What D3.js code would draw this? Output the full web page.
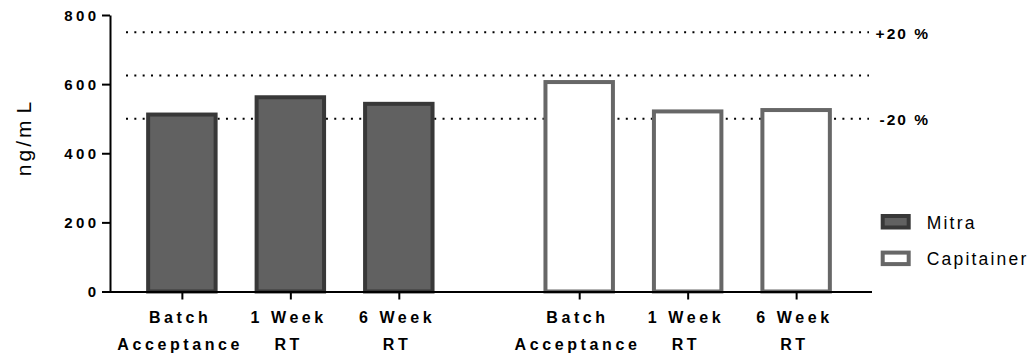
<!DOCTYPE html>
<html>
<head>
<meta charset="utf-8">
<script src="https://cdn.jsdelivr.net/npm/d3@7"></script>
<style>
  body { margin: 0; background: #fff; }
  svg { display: block; }
</style>
</head>
<body>
<svg id="chart" width="1033" height="357"></svg>
<script>
// Concentration by device and storage timepoint
const devices = ["Mitra", "Capitainer"];
const timepoints = ["Batch Acceptance", "1 Week RT", "6 Week RT"];
const timepointLines = [["Batch", "Acceptance"], ["1 Week", "RT"], ["6 Week", "RT"]];
const mitraValues = [512, 562, 543];
const capitainerValues = [606, 521, 525];
const yTicks = [0, 200, 400, 600, 800];
// nominal 625 ng/mL with ±20 % acceptance limits
const refValues = [750, 625, 500];
const refLabels = ["+20 %", "", "-20 %"];

const seriesValues = { Mitra: mitraValues, Capitainer: capitainerValues };
const deviceStyle = {
  Mitra: { fill: "#616161", stroke: "#383838" },
  Capitainer: { fill: "#ffffff", stroke: "#676767" }
};

const font = "'Liberation Sans', Arial, Helvetica, sans-serif";
const svg = d3.select("#chart");

const y = d3.scaleLinear().domain([0, 800]).range([291.5, 15]);
const outer = d3.scaleBand().domain(devices).range([110, 868])
  .paddingInner(0.181).paddingOuter(0.0444);
const inner = d3.scaleBand().domain(timepoints).range([0, outer.bandwidth()])
  .paddingInner(0.378).paddingOuter(0.189);

const entries = devices.flatMap(dev => timepoints.map((tp, i) => ({
  dev, tp, i, value: seriesValues[dev][i]
})));
const keyOf = e => e.dev + "|" + e.tp;
const xTick = d3.scaleOrdinal()
  .domain(entries.map(keyOf))
  .range(entries.map(e => outer(e.dev) + inner(e.tp) + inner.bandwidth() / 2));

// dotted reference lines (behind the bars)
svg.append("g").selectAll("line").data(refValues).join("line")
  .attr("x1", 126).attr("x2", 869)
  .attr("y1", d => y(d)).attr("y2", d => y(d))
  .attr("stroke", "#000").attr("stroke-width", 2)
  .attr("stroke-dasharray", "2 6.33");

svg.append("g").selectAll("text").data(refValues).join("text")
  .attr("x", 928).attr("y", d => y(d) + 6.5)
  .attr("text-anchor", "end")
  .attr("font-family", font).attr("font-weight", "bold")
  .attr("font-size", 15.5).attr("letter-spacing", 2)
  .attr("dx", 2)
  .text((d, i) => refLabels[i]);

// bars
svg.append("g").selectAll("rect").data(entries).join("rect")
  .attr("x", e => outer(e.dev) + inner(e.tp))
  .attr("width", inner.bandwidth())
  .attr("y", e => y(e.value))
  .attr("height", e => y(0) - y(e.value))
  .attr("fill", e => deviceStyle[e.dev].fill)
  .attr("stroke", e => deviceStyle[e.dev].stroke)
  .attr("stroke-width", 4);

// y axis
const yAxis = svg.append("g").attr("transform", "translate(110,0)")
  .call(d3.axisLeft(y).tickValues(yTicks).tickSize(8).tickSizeOuter(0).tickPadding(6));
yAxis.select(".domain").attr("stroke-width", 2);
yAxis.selectAll(".tick line").attr("stroke-width", 2);
yAxis.selectAll(".tick text")
  .attr("font-family", font).attr("font-weight", "bold")
  .attr("font-size", 15).attr("letter-spacing", 3.4).attr("dx", 3.4)
  .attr("dy", "0.36em")
  .attr("fill", "#000");

// x axis
const xAxisG = svg.append("g").attr("transform", `translate(0,${y(0)})`)
  .call(d3.axisBottom(xTick).tickSize(8).tickSizeOuter(0).tickFormat(() => ""));
xAxisG.select(".domain").remove();
xAxisG.selectAll(".tick line").attr("stroke-width", 2);
xAxisG.append("line")
  .attr("x1", 109).attr("x2", outer.range()[1] + 4)
  .attr("y1", 0.5).attr("y2", 0.5)
  .attr("stroke", "#000").attr("stroke-width", 2);

xAxisG.selectAll(".tick").each(function (k) {
  const e = entries.find(d => keyOf(d) === k);
  const t = d3.select(this).append("text")
    .attr("font-family", font).attr("font-weight", "bold")
    .attr("font-size", 16).attr("letter-spacing", 3.6)
    .attr("text-anchor", "middle").attr("fill", "#000");
  timepointLines[e.i].forEach((line, j) => {
    t.append("tspan").attr("x", -2.2).attr("y", 31.5 + j * 27).text(line);
  });
});

// y axis title
svg.append("text")
  .attr("transform", "translate(31,139) rotate(-90)")
  .attr("text-anchor", "middle")
  .attr("font-family", font).attr("font-size", 21)
  .attr("letter-spacing", 3).attr("dx", 1.5)
  .text("ng/m")
  .append("tspan").attr("dx", 4).text("L");

// legend
const legend = svg.append("g").selectAll("g").data(devices).join("g")
  .attr("transform", (d, i) => `translate(882.7,${216 + i * 36.6})`);
legend.append("rect")
  .attr("width", 26).attr("height", 11.5)
  .attr("fill", d => deviceStyle[d].fill)
  .attr("stroke", d => deviceStyle[d].stroke)
  .attr("stroke-width", 4);
legend.append("text")
  .attr("x", 44).attr("y", 12.8)
  .attr("font-family", font).attr("font-size", 17.5)
  .attr("letter-spacing", 2.2)
  .text(d => d);
</script>
</body>
</html>
